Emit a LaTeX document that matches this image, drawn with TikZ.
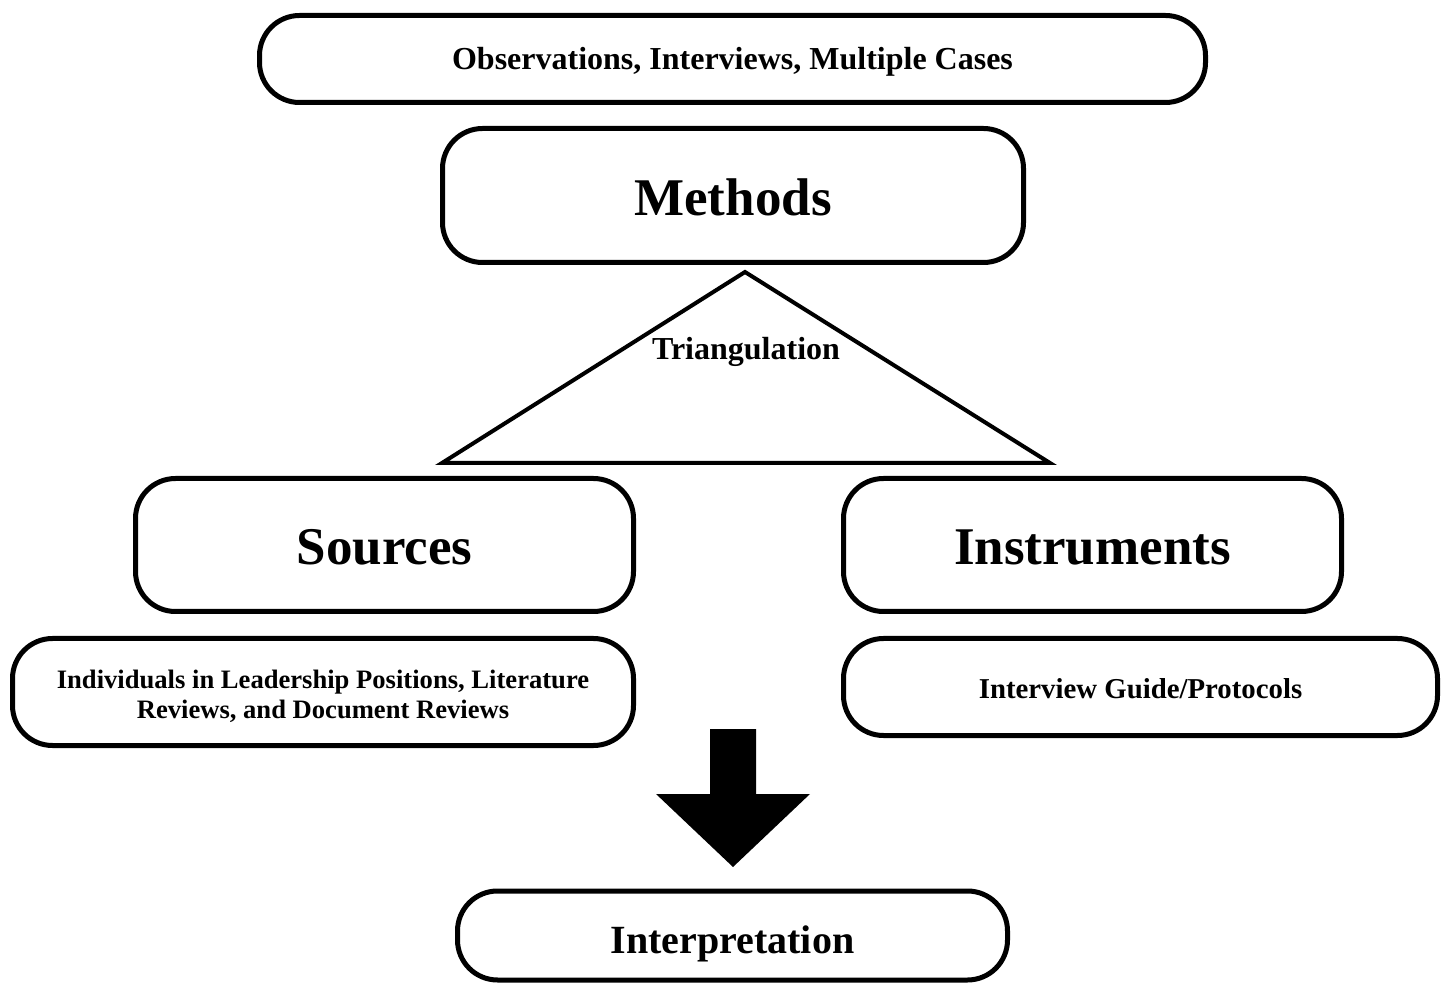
\documentclass[tikz,border=0pt]{standalone}
\usepackage{fontspec}
\setmainfont{Liberation Serif}
\begin{document}
\begin{tikzpicture}[x=0.5pt,y=-0.5pt,
  rbox/.style={draw=black, line width=2.5pt, rounded corners=20pt, fill=white,
    align=center, font=\bfseries, inner sep=0pt, text depth=0pt},
  tri/.style={draw=black, line width=2pt, line join=miter},
  blockarrow/.style={fill=black, draw=none}]
\useasboundingbox (0,0) rectangle (1446,983);

% upper tier
\node[rbox, minimum width=473pt, minimum height=43.5pt, text height=11pt,
  font=\bfseries\fontsize{16}{19}\selectfont]
  (cases) at (732.5,59) {Observations, Interviews, Multiple Cases};
\node[rbox, minimum width=290.5pt, minimum height=67pt, text height=20.5pt,
  font=\bfseries\fontsize{26.5}{30}\selectfont]
  (methods) at (733,195.5) {Methods};

% triangulation triangle
\coordinate (apex) at (745,272);
\coordinate (bl) at (442,463);
\coordinate (br) at (1050,463);
\draw[tri] (apex) -- (br) -- (bl) -- cycle;
\node[font=\bfseries\fontsize{16}{19}\selectfont, inner sep=0pt, anchor=base]
  (triang) at (746,360) {Triangulation};

% middle tier
\node[rbox, minimum width=249pt, minimum height=66.5pt, text height=20pt,
  font=\bfseries\fontsize{26.5}{30}\selectfont]
  (sources) at (384.5,545) {Sources};
\node[rbox, minimum width=249pt, minimum height=66.5pt, text height=20pt,
  font=\bfseries\fontsize{26.5}{30}\selectfont]
  (instruments) at (1092.5,545) {Instruments};

% detail boxes
\node[draw=black, line width=2.5pt, rounded corners=20pt, fill=white, inner sep=0pt,
  minimum width=310.5pt, minimum height=53.5pt,
  font=\bfseries\fontsize{13.3}{15}\selectfont]
  (srcdetail) at (323,692)
  {\raisebox{-3pt}[\height][\depth]{\begin{tabular}{@{}c@{}}Individuals in Leadership Positions, Literature\\Reviews, and Document Reviews\end{tabular}}};
\node[rbox, minimum width=297pt, minimum height=48.5pt, text height=11pt,
  font=\bfseries\fontsize{14.4}{17}\selectfont]
  (instdetail) at (1140.5,687) {Interview Guide/Protocols};

% block arrow
\coordinate (shaftL) at (710,729);
\coordinate (shaftR) at (756,729);
\coordinate (headL) at (656,794);
\coordinate (headR) at (810,794);
\coordinate (tip) at (733,867);
\fill[blockarrow] (shaftL) -- (shaftR) -- (756,794) -- (headR) -- (tip) -- (headL) -- (710,794) -- cycle;

% result
\node[rbox, minimum width=275pt, minimum height=44.5pt, text height=18pt,
  font=\bfseries\fontsize{20}{24}\selectfont]
  (interp) at (732.5,935.5) {Interpretation};
\end{tikzpicture}
\end{document}
